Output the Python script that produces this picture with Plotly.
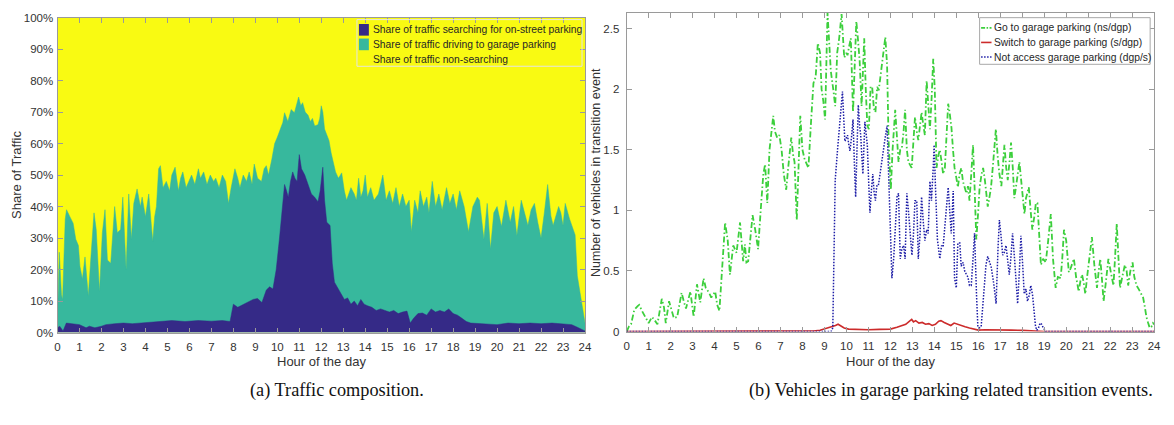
import plotly.graph_objects as go

W, H = 1174, 425

# ---------------- (a) Traffic composition (percent of traffic) ----------------
hours_total = [0, 24]
share_total = [100, 100]  # all traffic (top of the non-searching band)

# share of traffic that is searching on-street OR driving to a garage (cumulative)
hours_busy = [
    0.00, 0.08, 0.18, 0.23, 0.35, 0.41, 0.56, 0.71, 0.83, 0.95,
    1.02, 1.13, 1.25, 1.40, 1.51, 1.66, 1.76, 1.91, 2.04, 2.16,
    2.27, 2.42, 2.60, 2.72, 2.87, 2.97, 3.12, 3.24, 3.36, 3.47,
    3.62, 3.77, 3.85, 4.00, 4.15, 4.33, 4.42, 4.50, 4.60, 4.68,
    4.80, 4.95, 5.10, 5.20, 5.35, 5.50, 5.60, 5.70, 5.85, 5.96,
    6.10, 6.25, 6.41, 6.50, 6.65, 6.80, 6.95, 7.10, 7.20, 7.35,
    7.50, 7.65, 7.78, 7.90, 8.07, 8.20, 8.30, 8.45, 8.60, 8.72,
    8.85, 8.95, 9.10, 9.28, 9.40, 9.50, 9.60, 9.75, 9.88, 10.00,
    10.12, 10.25, 10.33, 10.48, 10.63, 10.78, 10.97, 11.07, 11.15, 11.27,
    11.40, 11.50, 11.60, 11.70, 11.85, 11.93, 12.00, 12.07, 12.15, 12.25,
    12.35, 12.45, 12.55, 12.65, 12.78, 12.93, 13.05, 13.15, 13.35, 13.50,
    13.60, 13.70, 13.80, 13.90, 14.00, 14.10, 14.25, 14.40, 14.60, 14.80,
    14.95, 15.10, 15.25, 15.40, 15.55, 15.70, 15.85, 16.00, 16.10, 16.25,
    16.40, 16.50, 16.65, 16.80, 16.90, 17.05, 17.20, 17.35, 17.50, 17.70,
    17.85, 18.00, 18.15, 18.30, 18.50, 18.70, 18.90, 19.10, 19.20, 19.40,
    19.55, 19.70, 19.85, 20.00, 20.20, 20.40, 20.60, 20.75, 20.90, 21.10,
    21.25, 21.40, 21.55, 21.70, 21.85, 22.00, 22.15, 22.30, 22.45, 22.55,
    22.80, 22.90, 23.00, 23.10, 23.30, 23.45, 23.55, 23.65, 23.80, 23.90,
    24.00,
]
share_busy = [
    5, 25.5, 12, 10.5, 36, 39, 36.8, 34.7, 29.6, 27.6,
    21, 17, 24, 11.6, 23, 38, 32.7, 13, 31.7, 39,
    23, 22, 40, 31.7, 32.7, 43, 20, 44, 29.6, 41,
    45.6, 40, 43, 36.8, 44, 29, 36.8, 40, 52, 53,
    46, 48, 45, 50, 52.5, 45, 49, 51, 46, 48,
    50, 47, 52, 49, 51, 47, 50, 48, 49, 46,
    50, 48, 41, 46, 52, 49, 46, 50, 48, 51,
    47, 53.5, 49, 48, 52, 53, 50, 55, 60, 62,
    64, 66.7, 69.8, 67, 70.8, 69.8, 74.8, 72, 73, 70,
    69, 67, 68, 65.6, 66, 68, 72, 70, 64.6, 63,
    61, 57, 54, 51, 49, 50.7, 45, 42, 46, 44,
    42, 49, 43, 45, 50, 43, 46, 42, 44, 50,
    42, 45, 41, 46, 40, 44, 40, 42, 32, 42,
    38, 45, 40, 43, 38, 48, 40, 44, 39, 46,
    41, 44, 39, 45, 40, 32, 40, 43, 42, 29.6,
    41, 26.5, 38, 40, 33.7, 42, 35, 40, 30.7, 42,
    38, 34, 39, 41, 35, 30, 38, 47, 37, 34,
    40, 38, 34, 41, 36, 33, 31, 18, 12, 8,
    3,
]

# share of traffic searching for on-street parking
hours_search = [
    0.00, 0.10, 0.25, 0.40, 1.00, 1.30, 1.45, 1.70, 2.00, 2.20,
    2.60, 3.00, 3.40, 3.80, 4.20, 4.60, 5.20, 5.80, 6.40, 7.00,
    7.50, 7.85, 8.00, 8.20, 8.45, 8.70, 8.90, 9.10, 9.30, 9.50,
    9.65, 9.80, 9.95, 10.10, 10.20, 10.33, 10.42, 10.50, 10.60, 10.70,
    10.80, 10.90, 11.00, 11.10, 11.25, 11.40, 11.55, 11.70, 11.85, 11.95,
    12.07, 12.15, 12.25, 12.40, 12.50, 12.60, 12.75, 12.90, 13.05, 13.20,
    13.35, 13.50, 13.65, 13.80, 13.95, 14.10, 14.30, 14.50, 14.70, 14.90,
    15.10, 15.30, 15.50, 15.70, 15.90, 16.05, 16.20, 16.40, 16.60, 16.80,
    17.00, 17.20, 17.40, 17.60, 17.80, 18.00, 18.20, 18.40, 18.60, 18.80,
    19.20, 19.60, 20.00, 20.50, 21.00, 21.50, 22.00, 22.50, 23.00, 23.40,
    23.70, 24.00,
]
share_search = [
    1.5, 2.0, 0.5, 3.0, 2.5, 1.5, 2.0, 1.5, 2.0, 2.5,
    2.8, 3.0, 2.8, 3.0, 3.2, 3.5, 3.8, 3.5, 3.8, 3.6,
    3.8, 3.5, 9.0, 8.0, 8.8, 9.8, 10.5, 10.8, 9.5, 13.5,
    14.5, 13.8, 20, 30, 38, 47, 45, 43, 48, 51,
    49, 48, 56.5, 52, 50, 47, 44, 43, 41.5, 45,
    52.5, 42, 35, 34, 22, 16, 14, 12, 10.5, 11,
    9, 10, 8.5, 10.5, 9, 8.5, 8, 7, 7.5, 7,
    6.5, 7, 6, 6.5, 6.8, 3.0, 4.5, 6.0, 6.2, 5.5,
    7.5, 6.5, 7, 6.5, 7.5, 6.0, 5.5, 4.5, 3.5, 3.0,
    2.8, 2.5, 2.5, 3.0, 2.8, 3.0, 2.8, 3.0, 2.8, 2.5,
    1.5, 0.5,
]

legend_a = [
    "Share of traffic searching for on-street parking",
    "Share of traffic driving to garage parking",
    "Share of traffic non-searching",
]

# -------- (b) Vehicles in garage parking related transition events --------
hours_go = [
    0.00, 0.10, 0.20, 0.35, 0.50, 0.57, 0.70, 0.85, 1.00, 1.15,
    1.25, 1.40, 1.60, 1.70, 1.78, 1.93, 2.05, 2.15, 2.30, 2.50,
    2.60, 2.70, 2.90, 3.05, 3.20, 3.35, 3.50, 3.60, 3.75, 3.85,
    4.03, 4.12, 4.22, 4.35, 4.48, 4.60, 4.70, 4.85, 5.00, 5.16,
    5.30, 5.38, 5.45, 5.53, 5.65, 5.73, 5.85, 5.98, 6.13, 6.22,
    6.30, 6.40, 6.50, 6.60, 6.67, 6.75, 6.85, 6.95, 7.05, 7.15,
    7.26, 7.35, 7.45, 7.49, 7.58, 7.64, 7.74, 7.82, 7.90, 8.00,
    8.10, 8.20, 8.27, 8.39, 8.50, 8.60, 8.70, 8.80, 8.87, 8.95,
    9.03, 9.14, 9.22, 9.29, 9.40, 9.49, 9.58, 9.67, 9.78, 9.85,
    9.90, 10.00, 10.05, 10.12, 10.20, 10.30, 10.38, 10.45, 10.53, 10.60,
    10.69, 10.75, 10.81, 10.88, 10.95, 11.02, 11.10, 11.17, 11.25, 11.32,
    11.40, 11.47, 11.55, 11.62, 11.70, 11.77, 11.85, 11.92, 12.02, 12.10,
    12.22, 12.30, 12.37, 12.45, 12.52, 12.60, 12.67, 12.75, 12.82, 12.97,
    13.05, 13.12, 13.20, 13.27, 13.35, 13.42, 13.50, 13.57, 13.65, 13.72,
    13.80, 13.87, 13.95, 14.02, 14.10, 14.18, 14.25, 14.33, 14.40, 14.48,
    14.55, 14.63, 14.70, 14.78, 14.85, 14.92, 15.00, 15.07, 15.15, 15.23,
    15.30, 15.38, 15.46, 15.53, 15.60, 15.68, 15.76, 15.83, 15.91, 16.00,
    16.06, 16.15, 16.22, 16.30, 16.43, 16.50, 16.58, 16.68, 16.80, 16.88,
    16.96, 17.05, 17.12, 17.19, 17.27, 17.34, 17.42, 17.49, 17.57, 17.64,
    17.72, 17.80, 17.87, 17.95, 18.10, 18.17, 18.25, 18.30, 18.38, 18.46,
    18.55, 18.62, 18.69, 18.77, 18.85, 18.95, 19.07, 19.18, 19.30, 19.40,
    19.52, 19.62, 19.75, 19.82, 19.90, 20.00, 20.12, 20.20, 20.35, 20.45,
    20.57, 20.65, 20.72, 20.80, 20.87, 20.95, 21.05, 21.17, 21.28, 21.40,
    21.48, 21.55, 21.62, 21.70, 21.80, 21.92, 22.02, 22.15, 22.22, 22.30,
    22.38, 22.45, 22.55, 22.67, 22.75, 22.82, 22.92, 23.02, 23.10, 23.20,
    23.30, 23.43, 23.50, 23.58, 23.65, 23.73, 23.80, 23.88, 23.95, 24.00,
]
go_garage = [
    0.00, 0.04, 0.06, 0.18, 0.21, 0.22, 0.17, 0.12, 0.07, 0.12,
    0.10, 0.06, 0.27, 0.20, 0.07, 0.25, 0.18, 0.11, 0.12, 0.32,
    0.25, 0.19, 0.33, 0.12, 0.39, 0.24, 0.44, 0.36, 0.32, 0.28,
    0.33, 0.22, 0.17, 0.50, 0.90, 0.75, 0.47, 0.71, 0.65, 0.90,
    0.58, 0.72, 0.57, 0.58, 0.78, 0.96, 0.84, 0.68, 1.08, 1.30,
    1.38, 1.06, 1.50, 1.70, 1.78, 1.65, 1.60, 1.62, 1.50, 1.30,
    1.17, 1.35, 1.55, 1.60, 1.45, 1.40, 0.92, 1.30, 1.78, 1.50,
    1.42, 1.38, 1.35, 1.73, 2.05, 2.10, 2.38, 2.30, 2.00, 1.90,
    1.75, 2.63, 2.30, 2.15, 2.00, 1.86, 2.30, 2.42, 2.62, 2.35,
    2.26, 2.30, 2.28, 2.35, 2.42, 1.81, 2.20, 2.56, 2.40, 2.24,
    1.86, 2.10, 2.42, 2.00, 1.70, 1.67, 2.02, 2.02, 1.84, 1.81,
    2.02, 1.99, 2.10, 2.18, 2.30, 2.43, 2.20, 1.57, 1.17, 1.50,
    1.83, 1.60, 1.40, 1.50, 1.51, 1.65, 1.83, 1.50, 1.40, 1.35,
    1.60, 1.77, 1.65, 1.58, 1.70, 1.81, 1.70, 1.62, 2.07, 1.90,
    1.67, 1.90, 2.25, 2.00, 1.35, 1.45, 1.50, 1.40, 1.30, 1.35,
    1.60, 1.88, 1.80, 1.68, 1.50, 1.35, 1.27, 1.19, 1.30, 1.35,
    1.24, 1.19, 1.14, 1.20, 1.08, 1.30, 1.54, 1.20, 0.76, 1.00,
    1.19, 1.30, 1.35, 1.25, 1.03, 1.10, 1.19, 1.40, 1.67, 1.45,
    1.30, 1.20, 1.40, 1.54, 1.35, 1.25, 1.40, 1.56, 1.35, 1.10,
    1.20, 1.30, 1.40, 1.25, 0.97, 1.10, 1.15, 1.19, 1.00, 0.84,
    0.95, 1.06, 1.06, 0.80, 0.55, 0.60, 0.57, 0.75, 0.97, 0.60,
    0.36, 0.45, 0.44, 0.60, 0.84, 0.75, 0.49, 0.52, 0.60, 0.45,
    0.33, 0.42, 0.47, 0.40, 0.31, 0.45, 0.60, 0.78, 0.55, 0.36,
    0.50, 0.60, 0.45, 0.25, 0.40, 0.60, 0.50, 0.38, 0.60, 0.89,
    0.60, 0.36, 0.45, 0.55, 0.50, 0.38, 0.50, 0.57, 0.45, 0.38,
    0.35, 0.31, 0.28, 0.20, 0.12, 0.07, 0.03, 0.04, 0.07, 0.06,
]

hours_switch = [
    0.00, 7.00, 8.00, 8.50, 8.80, 9.00, 9.15, 9.30, 9.40, 9.50,
    9.62, 9.75, 9.90, 10.10, 10.50, 11.00, 11.50, 11.80, 12.00, 12.30,
    12.50, 12.70, 12.90, 12.97, 13.05, 13.15, 13.30, 13.45, 13.60, 13.75,
    13.90, 14.05, 14.20, 14.30, 14.45, 14.60, 14.75, 14.90, 15.05, 15.20,
    15.40, 15.60, 15.80, 16.00, 16.30, 16.60, 17.00, 17.50, 18.00, 18.50,
    18.80, 19.00, 24.00,
]
switch_garage = [
    0, 0, 0.003, 0.005, 0.01, 0.02, 0.03, 0.035, 0.04, 0.05,
    0.06, 0.045, 0.03, 0.02, 0.017, 0.015, 0.018, 0.02, 0.02, 0.035,
    0.05, 0.06, 0.09, 0.10, 0.08, 0.09, 0.07, 0.075, 0.06, 0.065,
    0.05, 0.06, 0.085, 0.09, 0.075, 0.06, 0.05, 0.07, 0.06, 0.05,
    0.04, 0.03, 0.02, 0.012, 0.015, 0.013, 0.015, 0.012, 0.01, 0.006,
    0.002, 0, 0,
]

hours_noaccess = [
    0.00, 9.30, 9.38, 9.49, 9.60, 9.70, 9.82, 9.88, 9.93, 10.00,
    10.05, 10.10, 10.16, 10.23, 10.30, 10.36, 10.42, 10.48, 10.54, 10.60,
    10.65, 10.70, 10.75, 10.84, 10.90, 10.95, 11.02, 11.07, 11.13, 11.20,
    11.26, 11.32, 11.38, 11.45, 11.53, 11.62, 11.70, 11.78, 11.85, 11.92,
    12.00, 12.07, 12.15, 12.22, 12.30, 12.37, 12.45, 12.52, 12.60, 12.67,
    12.75, 12.82, 12.90, 12.98, 13.05, 13.12, 13.20, 13.27, 13.35, 13.42,
    13.50, 13.57, 13.65, 13.72, 13.80, 13.87, 13.95, 13.99, 14.05, 14.14,
    14.25, 14.33, 14.40, 14.48, 14.55, 14.63, 14.70, 14.77, 14.86, 14.92,
    15.00, 15.07, 15.16, 15.22, 15.31, 15.38, 15.46, 15.53, 15.60, 15.68,
    15.76, 15.83, 15.92, 15.98, 16.06, 16.13, 16.20, 16.28, 16.35, 16.43,
    16.50, 16.59, 16.70, 16.81, 16.90, 16.96, 17.03, 17.11, 17.18, 17.26,
    17.33, 17.41, 17.48, 17.56, 17.65, 17.72, 17.79, 17.87, 17.94, 18.02,
    18.09, 18.17, 18.24, 18.32, 18.39, 18.47, 18.54, 18.60, 18.66, 18.74,
    18.81, 18.88, 18.96, 19.07, 24.00,
]
not_access = [
    0, 0, 0.03, 1.25, 1.51, 1.75, 1.98, 1.75, 1.57, 1.60,
    1.62, 1.55, 1.49, 1.60, 1.75, 1.40, 1.11, 1.50, 1.87, 1.70,
    1.62, 1.45, 1.30, 1.73, 1.60, 1.54, 1.20, 0.98, 1.15, 1.30,
    1.15, 1.08, 1.20, 1.20, 1.30, 1.43, 1.50, 1.62, 1.70, 1.30,
    0.90, 0.44, 0.60, 0.81, 1.11, 1.14, 0.60, 0.68, 0.71, 0.60,
    1.14, 1.00, 0.80, 0.63, 0.80, 1.08, 1.08, 0.60, 0.80, 1.11,
    0.90, 0.75, 0.84, 0.81, 1.24, 1.08, 1.35, 1.54, 1.20, 0.76,
    0.60, 0.71, 0.70, 0.90, 1.00, 1.19, 1.00, 0.81, 1.16, 0.44,
    0.36, 0.73, 0.73, 0.54, 0.57, 0.50, 0.47, 0.45, 0.38, 0.38,
    0.60, 0.81, 0.30, 0.04, 0.03, 0.04, 0.20, 0.44, 0.55, 0.62,
    0.57, 0.53, 0.40, 0.23, 0.70, 0.92, 0.80, 0.63, 0.65, 0.71,
    0.60, 0.47, 0.60, 0.81, 0.60, 0.40, 0.23, 0.50, 0.79, 0.55,
    0.31, 0.35, 0.25, 0.30, 0.38, 0.30, 0.12, 0.05, 0.01, 0.03,
    0.07, 0.06, 0.03, 0.00, 0.00,
]

legend_b = [
    "Go to garage parking (ns/dgp)",
    "Switch to garage parking (s/dgp)",
    "Not access garage parking (dgp/s)",
]

hour_ticks = list(range(0, 25))
pct_ticks = list(range(0, 101, 10))
veh_ticks = [0, 0.5, 1, 1.5, 2, 2.5]
veh_tick_text = ["0", "0.5", "1", "1.5", "2", "2.5"]

captions = [
    "(a) Traffic composition.",
    "(b) Vehicles in garage parking related transition events.",
]

# ---------------------------- styling ----------------------------
NAVY = "#352a87"
TEAL = "#37b89d"
YELLOW = "#f9fa12"
GREEN = "#3ccf3c"
RED = "#cc2b2b"
BLUE = "#1c1ca6"
AXIS = "#9a9a9a"
TXT = "#333333"
SANS = "Liberation Sans, Arial, sans-serif"
SERIF = "Liberation Serif, Times New Roman, serif"


def px(x):
    return x / W


def py(y):
    return 1 - y / H


fig = go.Figure()

# (a) layered areas: all traffic, then searching+garage, then searching
fig.add_trace(go.Scatter(x=hours_total, y=share_total, fill="tozeroy", mode="lines",
                         line=dict(width=0, color=YELLOW), fillcolor=YELLOW,
                         xaxis="x", yaxis="y", hoverinfo="skip"))
fig.add_trace(go.Scatter(x=hours_busy, y=share_busy, fill="tozeroy", mode="lines",
                         line=dict(width=0.5, color=TEAL), fillcolor=TEAL,
                         xaxis="x", yaxis="y"))
fig.add_trace(go.Scatter(x=hours_search, y=share_search, fill="tozeroy", mode="lines",
                         line=dict(width=0.5, color=NAVY), fillcolor=NAVY,
                         xaxis="x", yaxis="y"))

# (b) transition event lines
fig.add_trace(go.Scatter(x=hours_go, y=go_garage, mode="lines",
                         line=dict(width=1.8, color=GREEN, dash="6px,2.5px,1.5px,2.5px"),
                         xaxis="x2", yaxis="y2"))
fig.add_trace(go.Scatter(x=hours_switch, y=switch_garage, mode="lines",
                         line=dict(width=1.6, color=RED),
                         xaxis="x2", yaxis="y2"))
fig.add_trace(go.Scatter(x=hours_noaccess, y=not_access, mode="lines",
                         line=dict(width=1.5, color=BLUE, dash="1.5px,1.5px"),
                         xaxis="x2", yaxis="y2"))

axis_common = dict(showline=True, linecolor=AXIS, linewidth=1, mirror="allticks",
                   ticks="inside", ticklen=5, tickcolor=AXIS, tickwidth=1,
                   showgrid=False, zeroline=False,
                   tickfont=dict(family=SANS, size=11.5, color=TXT))

fig.update_layout(
    width=W, height=H, margin=dict(l=0, r=0, t=0, b=0),
    paper_bgcolor="white", plot_bgcolor="white", showlegend=False,
    xaxis=dict(domain=[px(55), px(587)], range=[0, 24], tickvals=hour_ticks,
               anchor="y", ticklabelstandoff=4, **axis_common),
    yaxis=dict(domain=[py(336), py(12)], range=[0, 100], tickvals=pct_ticks,
               ticktext=[f"{v}%" for v in pct_ticks], anchor="x",
               ticklabelstandoff=1, **axis_common),
    xaxis2=dict(domain=[px(629), px(1161)], range=[0, 24], tickvals=hour_ticks,
                anchor="y2", ticklabelstandoff=4, **axis_common),
    yaxis2=dict(domain=[py(335), py(7)], range=[0, 2.63], tickvals=veh_ticks,
                ticktext=veh_tick_text, anchor="x2", ticklabelstandoff=4,
                **axis_common),
)

shapes = []
annotations = []

# axis titles
title_font = dict(family=SANS, size=13, color=TXT)
annotations += [
    dict(text="Hour of the day", x=px(321), y=py(366), xref="paper", yref="paper",
         xanchor="center", yanchor="middle", showarrow=False, font=title_font),
    dict(text="Hour of the day", x=px(895), y=py(366), xref="paper", yref="paper",
         xanchor="center", yanchor="middle", showarrow=False, font=title_font),
    dict(text="Share of Traffic", x=px(13), y=py(174), xref="paper", yref="paper",
         xanchor="center", yanchor="middle", textangle=-90, showarrow=False,
         font=title_font),
    dict(text="Number of vehicles in transition event", x=px(598), y=py(171),
         xref="paper", yref="paper", xanchor="center", yanchor="middle",
         textangle=-90, showarrow=False, font=dict(family=SANS, size=12.5, color=TXT)),
]

# captions
cap_font = dict(family=SERIF, size=18.3, color="#111111")
annotations += [
    dict(text=captions[0], x=px(337), y=py(396), xref="paper", yref="paper",
         xanchor="center", yanchor="middle", showarrow=False, font=cap_font),
    dict(text=captions[1], x=px(956), y=py(396), xref="paper", yref="paper",
         xanchor="center", yanchor="middle", showarrow=False, font=cap_font),
]

leg_font = dict(family=SANS, size=10.3, color="#262626")

# legend for (a)
shapes.append(dict(type="rect", xref="paper", yref="paper",
                   x0=px(357), x1=px(584), y0=py(62), y1=py(14),
                   line=dict(color="#e4e4e4", width=1), fillcolor="rgba(0,0,0,0)"))
for label, color, yc in zip(legend_a, [NAVY, TEAL, YELLOW], [24.5, 39.5, 55]):
    shapes.append(dict(type="rect", xref="paper", yref="paper",
                       x0=px(359), x1=px(369), y0=py(yc + 6), y1=py(yc - 6),
                       line=dict(width=0), fillcolor=color))
    annotations.append(dict(text=label, x=px(371), y=py(yc), xref="paper", yref="paper",
                            xanchor="left", yanchor="middle", showarrow=False,
                            font=leg_font))

# legend for (b)
shapes.append(dict(type="rect", xref="paper", yref="paper",
                   x0=px(985), x1=px(1157), y0=py(60), y1=py(12),
                   line=dict(color="#a8a8a8", width=1), fillcolor="white"))
leg_b_styles = [(GREEN, "4px,1.5px,1.5px,1.5px", 1.8), (RED, "solid", 1.6),
                (BLUE, "1.5px,1.5px", 1.5)]
for label, (color, dash, lw), yc in zip(legend_b, leg_b_styles, [22.5, 37.5, 52.5]):
    shapes.append(dict(type="line", xref="paper", yref="paper",
                       x0=px(986.5), x1=px(997), y0=py(yc), y1=py(yc),
                       line=dict(color=color, width=lw, dash=dash)))
    annotations.append(dict(text=label, x=px(998), y=py(yc), xref="paper", yref="paper",
                            xanchor="left", yanchor="middle", showarrow=False,
                            font=leg_font))

fig.update_layout(shapes=shapes, annotations=annotations)

fig.write_html("out.html")
